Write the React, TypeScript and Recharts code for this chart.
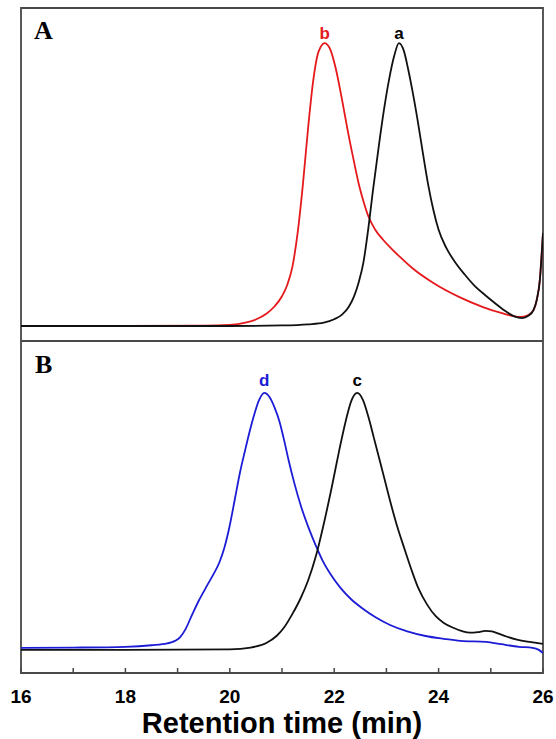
import { LineChart, Line, XAxis, YAxis, ReferenceArea, ReferenceDot } from "recharts"

// panel A: retention time (min) and detector signal, baseline 0, peak 100
const timeA = [16, 18, 20, 21, 21.5, 21.8, 22.0, 22.15, 22.28, 22.38, 22.47, 22.56, 22.65, 22.75, 22.85, 22.95, 23.05, 23.15, 23.24, 23.33, 23.42, 23.5, 23.6, 23.7, 23.8, 23.9, 24.0, 24.15, 24.3, 24.5, 24.7, 24.9, 25.1, 25.3, 25.45, 25.6, 25.72, 25.82, 25.88, 25.94, 25.98, 26]
const signalA = [0, 0, 0, 0.2, 0.6, 1.2, 2.4, 4, 6.8, 10.5, 15.5, 22.5, 34, 49, 63, 76, 87, 95.5, 100, 97.5, 90.5, 83, 72.5, 61, 50, 41, 34, 27.5, 23, 18.2, 14, 10.8, 7.8, 5, 3.4, 2.8, 3.6, 5.7, 9.2, 16.3, 26.9, 32.9]

const timeB = [16, 18, 19.5, 20.0, 20.3, 20.5, 20.7, 20.85, 21.0, 21.1, 21.2, 21.3, 21.4, 21.5, 21.6, 21.7, 21.82, 21.93, 22.03, 22.15, 22.27, 22.38, 22.48, 22.57, 22.65, 22.78, 22.94, 23.1, 23.26, 23.5, 23.9, 24.4, 24.85, 25.2, 25.56, 25.72, 25.82, 25.88, 25.94, 25.98, 26]
const signalB = [0, 0, 0.1, 0.4, 1.2, 2.3, 4.3, 6.8, 10.5, 14.5, 21, 33, 50, 70, 87, 97, 100, 97.5, 91, 80, 68, 58, 49.5, 43.5, 39, 34.2, 30.4, 27.3, 24.4, 20.4, 15.2, 10.2, 6.7, 4.6, 3.2, 3.9, 5.7, 9.2, 16.3, 26.9, 32.9]

// panel B
const timeC = [16, 18, 20, 20.4, 20.7, 20.9, 21.05, 21.2, 21.35, 21.5, 21.65, 21.8, 21.95, 22.1, 22.22, 22.33, 22.44, 22.55, 22.66, 22.76, 22.86, 22.97, 23.07, 23.2, 23.34, 23.48, 23.61, 23.78, 23.95, 24.1, 24.28, 24.45, 24.6, 24.75, 24.9, 25.02, 25.15, 25.3, 25.5, 25.7, 25.87, 26]
const signalC = [0, 0, 0.2, 0.9, 2.7, 5.5, 9, 14, 19.8, 27, 36.5, 49, 63, 78, 89, 97, 100, 97.3, 90.3, 82.5, 74.7, 66, 58, 48.5, 39.7, 31.2, 24.1, 17.6, 13, 10.5, 8.6, 7.3, 6.7, 6.9, 7.4, 7.2, 6.3, 5.2, 4, 3.2, 2.7, 2.3]

const timeD = [16, 17, 18, 18.5, 18.8, 18.95, 19.05, 19.15, 19.27, 19.41, 19.55, 19.68, 19.8, 19.9, 20.0, 20.1, 20.2, 20.29, 20.38, 20.46, 20.56, 20.66, 20.76, 20.86, 20.95, 21.03, 21.13, 21.24, 21.37, 21.51, 21.65, 21.78, 21.95, 22.12, 22.32, 22.53, 22.8, 23.07, 23.4, 23.75, 24.1, 24.42, 24.91, 25.2, 25.54, 25.8, 25.92, 26]
const signalD = [0.8, 0.9, 1.2, 1.8, 2.5, 3.5, 5, 8, 13.3, 19.3, 24.5, 29.2, 34, 40, 48.5, 59, 69.5, 77.4, 85, 91, 97.2, 100, 98.4, 94.2, 89, 82.5, 73.5, 64.6, 55.5, 47.5, 40.5, 34.6, 28.8, 24.1, 19.8, 16.3, 12.6, 9.7, 7.2, 5.4, 4.3, 3.5, 3.1, 2.2, 1.2, 0.8, 0, -1.2]

const xTicks = [16, 17, 18, 19, 20, 21, 22, 23, 24, 25, 26]

const toRows = (t: number[], v: number[]) => t.map((x, i) => ({ t: x, v: v[i] }))

const domainA: [number, number] = [-5.3, 112.4]
const domainB: [number, number] = [-9, 120.2]

const frame = "#484848"
const sans = "'Liberation Sans', Arial, sans-serif"
const serif = "'Liberation Serif', 'Times New Roman', serif"

export default function App() {
  return (
    <div style={{ position: "absolute", left: 0, top: 0, width: 556, height: 739, background: "#fff" }}>
      <div style={{ position: "absolute", left: 0, top: 0 }}>
        <LineChart width={556} height={341} margin={{ top: 8, right: 13, bottom: 0, left: 21 }}>
          <XAxis type="number" dataKey="t" domain={[16, 26]} hide allowDataOverflow />
          <YAxis type="number" dataKey="v" domain={domainA} hide allowDataOverflow />
          <Line data={toRows(timeB, signalB)} dataKey="v" type="monotone" stroke="#e5191c" strokeWidth={1.8} dot={false} isAnimationActive={false} />
          <Line data={toRows(timeA, signalA)} dataKey="v" type="monotone" stroke="#111" strokeWidth={1.8} dot={false} isAnimationActive={false} />
          <ReferenceArea
            x1={16}
            x2={26}
            y1={domainA[0]}
            y2={domainA[1]}
            fill="none"
            stroke={frame}
            strokeWidth={1.8}
            label={{ value: "A", position: "insideTopLeft", offset: 13, fontFamily: serif, fontWeight: 700, fontSize: 26, fill: "#000" }}
          />
          <ReferenceDot x={21.82} y={100} r={0} label={{ value: "b", position: "top", offset: 4, fontFamily: sans, fontWeight: 700, fontSize: 17, fill: "#e5191c" }} />
          <ReferenceDot x={23.24} y={100} r={0} label={{ value: "a", position: "top", offset: 4, fontFamily: sans, fontWeight: 700, fontSize: 17, fill: "#000" }} />
        </LineChart>
      </div>
      <div style={{ position: "absolute", left: 0, top: 341 }}>
        <LineChart width={556} height={398} margin={{ top: 0, right: 13, bottom: 0, left: 21 }}>
          <XAxis
            type="number"
            dataKey="t"
            domain={[16, 26]}
            ticks={xTicks}
            interval={0}
            allowDataOverflow
            height={66}
            axisLine={false}
            tickSize={-5}
            tickMargin={22}
            tickLine={{ stroke: frame, strokeWidth: 1.5 }}
            tickFormatter={(v: number) => (v % 2 === 0 ? `${v}` : "")}
            tick={{ fontFamily: sans, fontWeight: 700, fontSize: 19, fill: "#000" }}
            label={{ value: "Retention time (min)", position: "insideBottom", offset: 6, fontFamily: sans, fontWeight: 700, fontSize: 29, fill: "#000" }}
          />
          <XAxis
            xAxisId="top"
            orientation="top"
            type="number"
            dataKey="t"
            domain={[16, 26]}
            ticks={xTicks}
            interval={0}
            height={0}
            axisLine={false}
            tickSize={-5}
            tickLine={{ stroke: frame, strokeWidth: 1.5 }}
            tickFormatter={() => ""}
          />
          <YAxis type="number" dataKey="v" domain={domainB} hide allowDataOverflow />
          <Line data={toRows(timeD, signalD)} dataKey="v" type="monotone" stroke="#1c1cd6" strokeWidth={1.8} dot={false} isAnimationActive={false} />
          <Line data={toRows(timeC, signalC)} dataKey="v" type="monotone" stroke="#111" strokeWidth={1.8} dot={false} isAnimationActive={false} />
          <ReferenceArea
            x1={16}
            x2={26}
            y1={domainB[0]}
            y2={domainB[1]}
            fill="none"
            stroke={frame}
            strokeWidth={1.8}
            label={{ value: "B", position: "insideTopLeft", offset: 14, fontFamily: serif, fontWeight: 700, fontSize: 26, fill: "#000" }}
          />
          <ReferenceDot x={20.66} y={100} r={0} label={{ value: "d", position: "top", offset: 7, fontFamily: sans, fontWeight: 700, fontSize: 17, fill: "#1c1cd6" }} />
          <ReferenceDot x={22.44} y={100} r={0} label={{ value: "c", position: "top", offset: 7, fontFamily: sans, fontWeight: 700, fontSize: 17, fill: "#000" }} />
        </LineChart>
      </div>
    </div>
  )
}
